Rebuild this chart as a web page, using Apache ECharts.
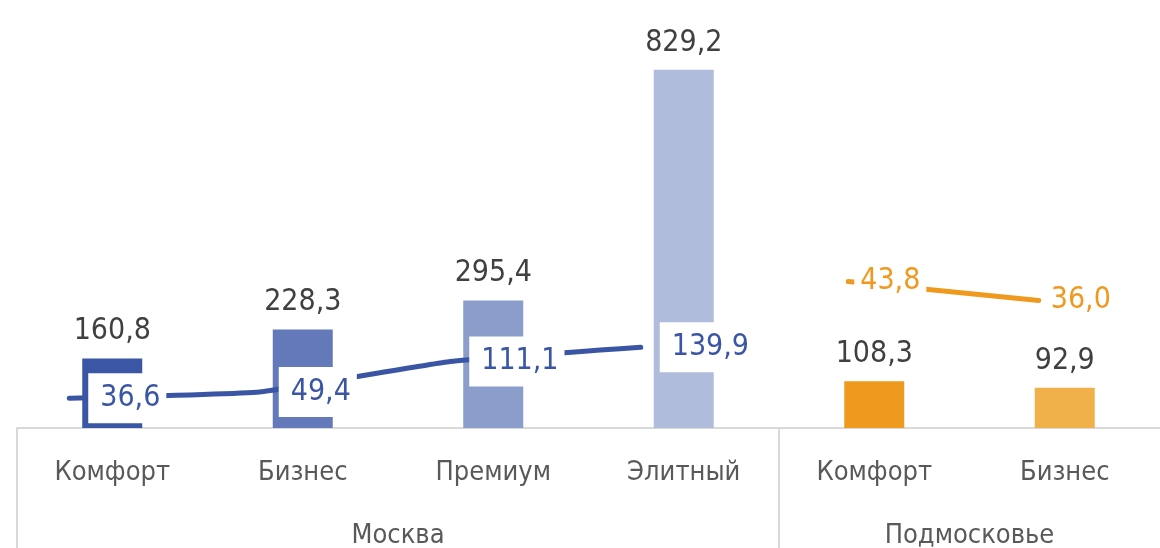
<!DOCTYPE html>
<html>
<head>
<meta charset="utf-8">
<title>Рынок</title>
<script src="https://cdn.jsdelivr.net/npm/echarts@6/dist/echarts.min.js"></script>
<style>
  html, body { margin: 0; padding: 0; background: #fff; }
</style>
</head>
<body>
<div id="main" style="width:1160px;height:548px;"></div>
<script type="text/javascript">
// категории и группы
var categories = ['Комфорт', 'Бизнес', 'Премиум', 'Элитный', 'Комфорт', 'Бизнес'];
var groups = ['Москва', 'Подмосковье'];
var groupSizes = [4, 2];
// столбцы
var barValues = [160.8, 228.3, 295.4, 829.2, 108.3, 92.9];
// линии
var moscowLine = [36.6, 49.4, 111.1, 139.9, '-', '-'];
var regionLine = ['-', '-', '-', '-', 43.8, 36.0];

var barColors = ['#3a56a5', '#6379b9', '#8a9dcb', '#b0bcdb', '#ee9a1e', '#f0b04a'];
var font = "'Liberation Sans Narrow', 'DejaVu Sans Condensed', 'Roboto', sans-serif";

function fmt(v) { return Number(v).toFixed(1).replace('.', ','); }

// границы и середины групп в единицах категорий
var bounds = [0], mids = [];
groupSizes.forEach(function (n, i) {
  var start = bounds[bounds.length - 1];
  mids.push(start + n / 2);
  bounds.push(start + n);
});

var myChart = echarts.init(document.getElementById('main'));

var gridBase = { top: 28, bottom: 120, width: 1143, outerBoundsMode: 'none' };
var option = {
  animation: false,
  textStyle: { fontFamily: font },
  grid: [
    Object.assign({ left: 17 }, gridBase),
    Object.assign({ left: -26 }, gridBase),   // линия Москвы чуть левее столбцов
    Object.assign({ left: -9 }, gridBase)     // линия Подмосковья
  ],
  xAxis: [
    {
      type: 'category', gridIndex: 0, data: categories, position: 'bottom',
      axisLine: { lineStyle: { color: '#d9d9d9', width: 2 } },
      axisTick: { show: false },
      axisLabel: { color: '#595959', fontSize: 27, margin: 31, fontFamily: font }
    },
    {
      type: 'value', gridIndex: 0, min: 0, max: 6, position: 'bottom', offset: 0,
      axisLine: { show: false },
      splitLine: { show: false },
      axisTick: {
        show: true, length: 122, customValues: bounds.slice(0, bounds.length - 1),
        lineStyle: { color: '#d9d9d9', width: 2 }
      },
      axisLabel: {
        color: '#595959', fontSize: 27, margin: 94, fontFamily: font,
        customValues: mids,
        formatter: function (v) { return groups[mids.indexOf(v)] || ''; }
      }
    },
    { type: 'category', gridIndex: 1, data: categories, show: false },
    { type: 'category', gridIndex: 2, data: categories, show: false }
  ],
  yAxis: [
    { type: 'value', gridIndex: 0, min: 0, max: 926, show: false, splitLine: { show: false } },
    { type: 'value', gridIndex: 1, min: -23.5, max: 786.7, show: false, splitLine: { show: false } },
    { type: 'value', gridIndex: 2, min: -16.3, max: 147.9, show: false, splitLine: { show: false } }
  ],
  series: [
    {
      type: 'bar', xAxisIndex: 0, yAxisIndex: 0, barWidth: 60, z: 2,
      data: barValues.map(function (v, i) {
        return { value: v, itemStyle: { color: barColors[i] } };
      }),
      label: {
        show: true, position: 'top', distance: 12,
        color: '#404040', fontSize: 30, fontFamily: font,
        formatter: function (p) { return fmt(p.value); }
      }
    },
    {
      type: 'line', xAxisIndex: 2, yAxisIndex: 1, z: 5,
      data: moscowLine, smooth: 0.1, symbol: 'circle', symbolSize: 0,
      itemStyle: { color: '#3a55a4' },
      lineStyle: { color: '#3a55a4', width: 5, cap: 'round' },
      label: {
        show: true, position: 'right', distance: 19,
        color: '#3a55a4', fontSize: 30, fontFamily: font,
        backgroundColor: '#fff', padding: [10, 6, 10, 12],
        formatter: function (p) { return fmt(p.value); }
      }
    },
    {
      type: 'line', xAxisIndex: 3, yAxisIndex: 2, z: 5,
      data: regionLine, symbol: 'circle', symbolSize: 0,
      itemStyle: { color: '#ef9a1e' },
      lineStyle: { color: '#ef9a1e', width: 5, cap: 'round' },
      label: {
        show: true, position: 'right', distance: 6,
        color: '#ef9a1e', fontSize: 30, fontFamily: font,
        backgroundColor: '#fff', padding: [8, 6, 8, 6],
        formatter: function (p) { return fmt(p.value); }
      }
    }
  ]
};

myChart.setOption(option);
</script>
</body>
</html>
